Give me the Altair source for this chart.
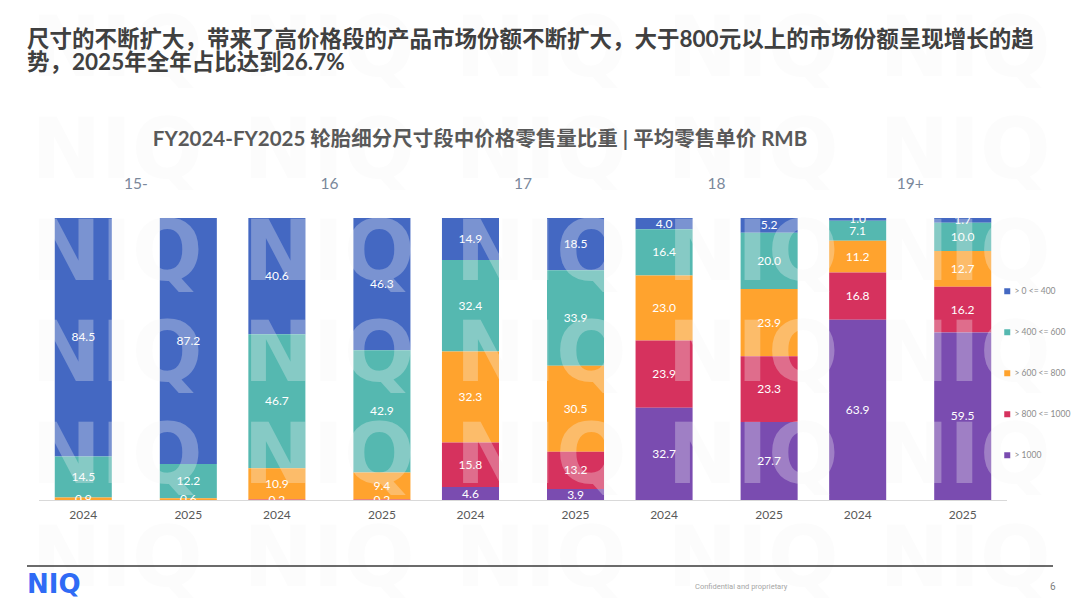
import altair as alt
import pandas as pd

# ---------------- data ----------------
groups = ["15-", "16", "17", "18", "19+"]
years = ["2024", "2025"]
segments = ["> 0 <= 400", "> 400 <= 600", "> 600 <= 800", "> 800 <= 1000", "> 1000"]
colors = ["#4468c2", "#55b8b0", "#ffa32e", "#d6325e", "#7a4cb0"]

# bar order: 15-/2024, 15-/2025, 16/2024, 16/2025, 17/2024, ... 19+/2025
seg_0_400 = [84.5, 87.2, 40.6, 46.3, 14.9, 18.5, 4.0, 5.2, 1.0, 1.7]
seg_400_600 = [14.5, 12.2, 46.7, 42.9, 32.4, 33.9, 16.4, 20.0, 7.1, 10.0]
seg_600_800 = [0.9, 0.6, 10.9, 9.4, 32.3, 30.5, 23.0, 23.9, 11.2, 12.7]
seg_800_1000 = [0.0, 0.0, 0.2, 0.2, 15.8, 13.2, 23.9, 23.3, 16.8, 16.2]
seg_1000 = [0.0, 0.0, 0.0, 0.0, 4.6, 3.9, 32.7, 27.7, 63.9, 59.5]

title_line1 = "尺寸的不断扩大，带来了高价格段的产品市场份额不断扩大，大于800元以上的市场份额呈现增长的趋"
title_line2 = "势，2025年全年占比达到26.7%"
chart_title = "FY2024-FY2025 轮胎细分尺寸段中价格零售量比重 | 平均零售单价 RMB"

all_series = [seg_0_400, seg_400_600, seg_600_800, seg_800_1000, seg_1000]
rows = []
for s_i, (seg, vals) in enumerate(zip(segments, all_series)):
    for b, v in enumerate(vals):
        rows.append({"group": groups[b // 2], "year": years[b % 2], "segment": seg,
                     "ord": len(segments) - 1 - s_i, "value": v})
df = pd.DataFrame(rows)

W, H = 968, 282

base = alt.Chart(df).transform_stack(
    stack="value", groupby=["group", "year"], as_=["v0", "v1"], offset="normalize",
    sort=[alt.SortField("ord", order="ascending")]
).transform_calculate(mid="(datum.v0 + datum.v1) / 2")

xenc = alt.X("group:N", sort=groups, axis=None,
             scale=alt.Scale(paddingInner=0, paddingOuter=0))
xoff = alt.XOffset("year:N", sort=years,
                   scale=alt.Scale(paddingInner=0.457, paddingOuter=0.15))
yscale = alt.Scale(domain=[0, 1])

bars = base.mark_bar(strokeWidth=0).encode(
    x=xenc, xOffset=xoff,
    y=alt.Y("v0:Q", scale=yscale, axis=None), y2="v1:Q",
    color=alt.Color("segment:N", sort=segments,
                    scale=alt.Scale(domain=segments, range=colors),
                    legend=alt.Legend(title=None, orient="none", legendX=964, legendY=69,
                                      symbolType="square", symbolSize=36, symbolStrokeWidth=0,
                                      labelFontSize=8.5, labelColor="#8c8c8c", labelFont="Lato",
                                      rowPadding=32, padding=0, labelOffset=3)),
)

labels = base.transform_filter("datum.value > 0").mark_text(
    color="white", fontSize=12, font="Lato", baseline="middle"
).encode(
    x=xenc, xOffset=xoff,
    y=alt.Y("mid:Q", scale=yscale, axis=None),
    text=alt.Text("value:Q", format=".1f"),
)

dummy = pd.DataFrame({"k": [0]})

cover = alt.Chart(dummy).mark_rect(color="white").encode(
    x=alt.value(0), x2=alt.value(W), y=alt.value(H + 1), y2=alt.value(H + 12))

baseline_rule = alt.Chart(dummy).mark_rule(color="#d9d9d9", strokeWidth=1).encode(
    x=alt.value(0), x2=alt.value(W), y=alt.value(H + 0.5))

year_labels = alt.Chart(df).transform_filter(alt.datum.segment == segments[0]).mark_text(
    fontSize=12, color="#595959", font="Lato", baseline="middle"
).encode(x=xenc, xOffset=xoff, y=alt.value(H + 15), text="year:N")

group_labels = alt.Chart(df).transform_filter(
    (alt.datum.segment == segments[0]) & (alt.datum.year == years[0])
).mark_text(fontSize=15.5, color="#7a889b", font="Lato", baseline="middle").encode(
    x=xenc, y=alt.value(-34), text="group:N")

main = alt.layer(bars, labels, cover, baseline_rule, year_labels, group_labels)

# decorative watermark grid (page decoration, not data)
wm_cols = [78, 290, 502, 714, 926]
wm_rows = [-142, -40, 62, 163, 265, 368]
wm_df = pd.DataFrame([{"wx": x, "wy": y} for y in wm_rows for x in wm_cols])
watermark = alt.Chart(wm_df).mark_text(
    text="NIQ", font="DejaVu Sans", fontWeight="bold", fontSize=83, fill="#f6f6f6",
    opacity=0.3, align="center", baseline="alphabetic"
).encode(x=alt.X("wx:Q", scale=None, axis=None), y=alt.Y("wy:Q", scale=None, axis=None))


def txt(text, x, y, **kw):
    return alt.Chart(dummy).mark_text(text=text, **kw).encode(x=alt.value(x), y=alt.value(y))


t1 = txt(title_line1, -12, -178, align="left", baseline="middle", fontSize=22.5,
         fontWeight="bold", font="Lato, Noto Sans CJK SC", color="#404040")
t2 = txt(title_line2, -12, -155, align="left", baseline="middle", fontSize=22.5,
         fontWeight="bold", font="Lato, Noto Sans CJK SC", color="#404040")
t3 = txt(chart_title, 441, -78, align="center", baseline="middle", fontSize=20.5,
         fontWeight="bold", font="Lato, Noto Sans CJK SC", color="#595959")

footer_rule = alt.Chart(dummy).mark_rule(color="#3a3a3a", strokeWidth=1.5).encode(
    x=alt.value(-12), x2=alt.value(1014), y=alt.value(348))
logo = txt("NIQ", -12, 367, align="left", baseline="middle", fontSize=26,
           fontWeight="bold", font="DejaVu Sans", color="#2f6bf5")
conf = txt("Confidential and proprietary", 656, 369, align="left", baseline="middle",
           fontSize=7.5, font="Roboto", color="#a6a6a6")
page = txt("6", 1011, 369, align="left", baseline="middle", fontSize=10,
           font="Roboto", color="#808080")

chart = alt.layer(
    main, watermark, t1, t2, t3, footer_rule, logo, conf, page
).resolve_scale(x="independent", y="independent").properties(
    width=W, height=H,
    autosize=alt.AutoSizeParams(type="none"),
    padding={"left": 31, "top": 210, "right": 65, "bottom": 99},
).configure_view(stroke=None)

chart.save("out.html", embed_options={"renderer": "svg", "actions": False})
